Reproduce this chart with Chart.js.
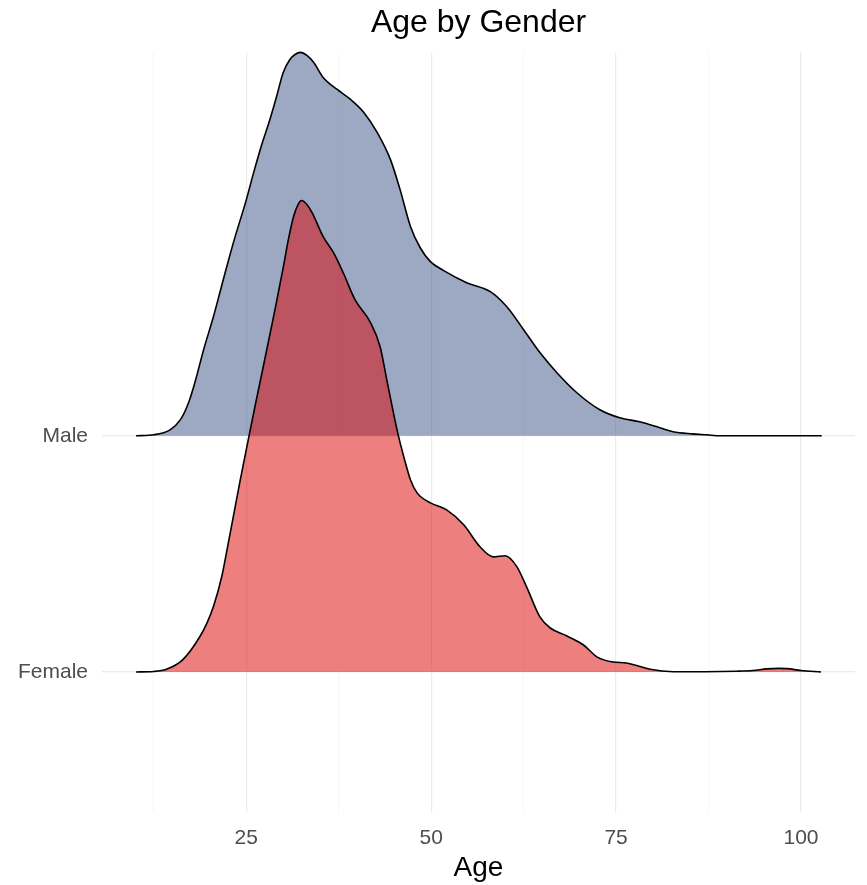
<!DOCTYPE html>
<html>
<head>
<meta charset="utf-8">
<script src="https://cdn.jsdelivr.net/npm/chart.js@4.4.1/dist/chart.umd.min.js"></script>
<style>
  html, body { margin: 0; padding: 0; background: #ffffff; }
  #wrap { width: 867px; height: 885px; }
</style>
</head>
<body>
<div id="wrap"><canvas id="ridgeChart"></canvas></div>
<script>
// ridge rows (category name and its baseline on the y scale)
const groups = ['Female', 'Male'];
const groupBase = [1, 2];

// Male density ridge (height in ridge units above the baseline)
const maleAge = [10.1, 12.5, 14.7, 16.1, 17.2, 18.1, 19.2, 20.6, 21.5, 22.4, 23.5, 24.9, 26.0, 27.1, 28.2, 29.1, 30.0, 30.9, 31.6, 32.3,
  33.2, 34.1, 35.4, 37.3, 39.1, 40.9, 42.7, 44.5, 45.8, 47.2, 48.5, 49.9, 51.7, 54.8, 58.0, 60.2, 62.5, 64.7, 67.0, 69.7,
  72.8, 75.5, 78.2, 80.9, 82.7, 85.3, 87.3, 89.0, 95.0, 102.8];
const maleHeight = [0, 0.004, 0.025, 0.068, 0.14, 0.23, 0.36, 0.508, 0.614, 0.72, 0.843, 0.987, 1.114, 1.233, 1.339, 1.436, 1.538, 1.593, 1.614, 1.623,
  1.61, 1.581, 1.517, 1.466, 1.424, 1.369, 1.284, 1.169, 1.042, 0.886, 0.797, 0.737, 0.699, 0.648, 0.61, 0.547, 0.449, 0.352, 0.267, 0.182,
  0.11, 0.076, 0.059, 0.034, 0.017, 0.008, 0.004, 0, 0, 0];

// Female density ridge
const femaleAge = [10.1, 12.5, 14.2, 16.4, 18.7, 19.7, 20.6, 21.7, 22.4, 23.4, 24.2, 25.3, 26.2, 27.3, 28.5, 29.1, 29.6, 30.0, 30.7, 31.4, 32.0,
  32.5, 33.2, 33.9, 35.4, 36.8, 38.1, 39.7, 41.8, 43.1, 44.0, 44.9, 45.6, 46.3, 47.2, 48.1, 49.9, 52.1, 54.4, 56.6, 58.4,
  60.0, 61.6, 62.9, 64.7, 66.1, 68.3, 70.6, 72.4, 74.6, 76.4, 78.0, 79.6, 82.7, 87.0, 91.3, 93.5, 95.4, 97.0, 98.1, 100.0, 102.7];
const femaleHeight = [0, 0.002, 0.011, 0.051, 0.148, 0.208, 0.28, 0.405, 0.517, 0.682, 0.814, 0.987, 1.127, 1.292, 1.475, 1.568, 1.648, 1.712, 1.831, 1.928, 1.979,
  1.996, 1.979, 1.945, 1.843, 1.775, 1.691, 1.576, 1.479, 1.377, 1.237, 1.097, 0.996, 0.911, 0.814, 0.758, 0.716, 0.686, 0.623, 0.53, 0.487,
  0.492, 0.445, 0.36, 0.233, 0.186, 0.153, 0.114, 0.064, 0.042, 0.038, 0.025, 0.011, 0.001, 0.001, 0.003, 0.006, 0.013, 0.015, 0.014, 0.006, 0];

const xTicks = [12.5, 25, 37.5, 50, 62.5, 75, 87.5, 100];

function ridge(ages, heights, base) {
  return ages.map((a, i) => ({ x: a, y: base + heights[i] }));
}

const font = '"Liberation Sans", Arial, sans-serif';

new Chart(document.getElementById('ridgeChart'), {
  type: 'line',
  data: {
    datasets: [
      {
        label: 'Male',
        data: ridge(maleAge, maleHeight, groupBase[1]),
        fill: { value: groupBase[1] },
        backgroundColor: 'rgba(60,84,136,0.5)',
        borderColor: '#000000',
        borderWidth: 1.6,
        pointRadius: 0,
        cubicInterpolationMode: 'monotone',
        clip: false,
        order: 1
      },
      {
        label: 'Female',
        data: ridge(femaleAge, femaleHeight, groupBase[0]),
        fill: { value: groupBase[0] },
        backgroundColor: 'rgba(220,0,0,0.5)',
        borderColor: '#000000',
        borderWidth: 1.6,
        pointRadius: 0,
        cubicInterpolationMode: 'monotone',
        clip: false,
        order: 0
      }
    ]
  },
  options: {
    responsive: true,
    maintainAspectRatio: false,
    animation: false,
    layout: { padding: { left: 2, right: 12, top: 0, bottom: 0 } },
    plugins: {
      legend: { display: false },
      tooltip: { enabled: false },
      title: {
        display: true,
        text: 'Age by Gender',
        fullSize: false,
        color: '#000000',
        font: { family: font, size: 32, weight: 'normal' },
        padding: { top: 4, bottom: 10 }
      }
    },
    scales: {
      x: {
        type: 'linear',
        min: 5.5,
        max: 107.3,
        afterBuildTicks: (s) => { s.ticks = xTicks.map(v => ({ value: v })); },
        afterFit: (s) => { s.height = 73; },
        border: { display: false },
        grid: {
          drawTicks: false,
          color: (c) => (c.tick && c.tick.value % 25 === 0) ? '#EBEBEB' : '#F4F4F4',
          lineWidth: (c) => (c.tick && c.tick.value % 25 === 0) ? 1.2 : 0.8
        },
        ticks: {
          padding: 14,
          color: '#4D4D4D',
          font: { family: font, size: 21 },
          autoSkip: false,
          maxRotation: 0,
          callback: (v) => (v % 25 === 0 ? String(v) : '')
        },
        title: {
          display: true,
          text: 'Age',
          color: '#000000',
          font: { family: font, size: 28 },
          padding: { top: 0, bottom: 0 }
        }
      },
      y: {
        type: 'linear',
        min: 0.407,
        max: 3.623,
        afterBuildTicks: (s) => { s.ticks = groupBase.map(v => ({ value: v })); },
        afterFit: (s) => { s.width = 100; },
        border: { display: false },
        grid: { drawTicks: false, color: '#EBEBEB', lineWidth: 1.2 },
        ticks: {
          padding: 14,
          color: '#4D4D4D',
          font: { family: font, size: 21 },
          callback: (v) => groups[groupBase.indexOf(v)]
        }
      }
    }
  }
});
</script>
</body>
</html>
